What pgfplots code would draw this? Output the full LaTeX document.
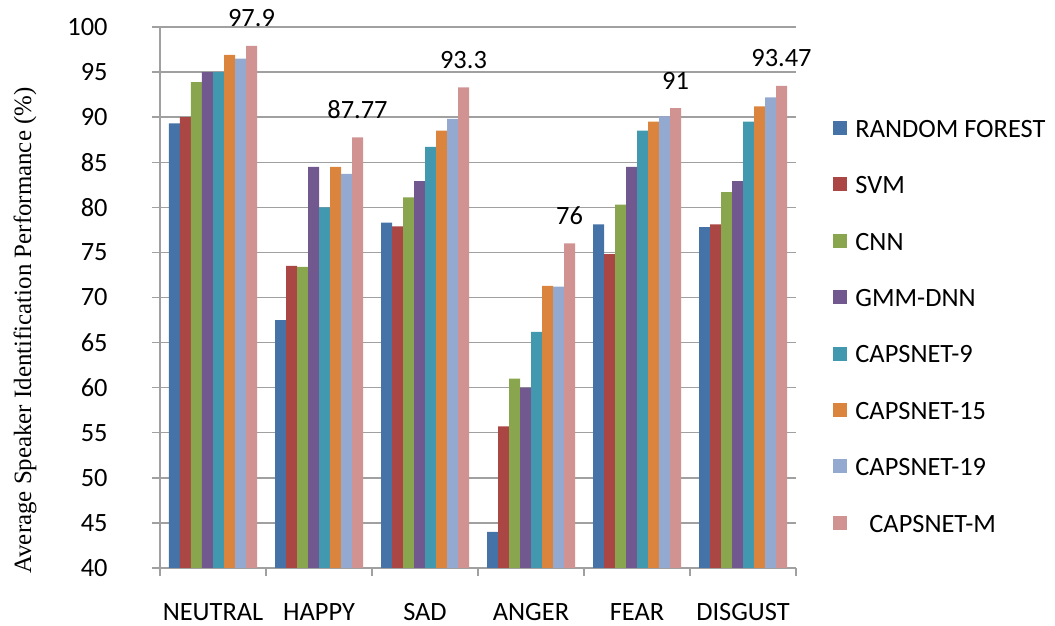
\documentclass[border=0pt]{standalone}
\usepackage{pgfplots}
\usepackage{pgfplotstable}
\pgfplotsset{compat=1.18}
\usepackage{fontspec}
\setmainfont{Carlito}
\newfontfamily\timesf{Liberation Serif}
\definecolor{cRF}{HTML}{4572A7}
\definecolor{cSVM}{HTML}{AA4643}
\definecolor{cCNN}{HTML}{89A54E}
\definecolor{cGMM}{HTML}{71588F}
\definecolor{cC9}{HTML}{4198AF}
\definecolor{cC15}{HTML}{DB843D}
\definecolor{cC19}{HTML}{93A9CF}
\definecolor{cM}{HTML}{D19392}
\definecolor{linegray}{HTML}{A0A0A0}
\pgfplotstableread{
x RF SVM CNN GMM C9 C15 C19 M
0 89.3 90.0 93.9 95.0 95.0 96.9 96.5 97.9
1 67.5 73.5 73.4 84.5 80.0 84.5 83.7 87.77
2 78.3 77.9 81.1 82.9 86.7 88.5 89.8 93.3
3 44.0 55.7 61.0 60.0 66.2 71.3 71.2 76
4 78.1 74.8 80.3 84.5 88.5 89.5 90.1 91
5 77.8 78.1 81.7 82.9 89.5 91.2 92.2 93.47
}\datatable
\begin{document}
\begin{tikzpicture}
\useasboundingbox (-80pt,-29pt) rectangle (447.5pt,284pt);
\begin{axis}[
  at={(0,0)}, anchor=south west,
  scale only axis,
  width=318pt, height=270.5pt,
  ybar=0pt, bar width=5.5pt,
  xmin=-0.5, xmax=5.5,
  ymin=40, ymax=100,
  ytick={40,45,...,100},
  xtick={-0.5,0.5,...,5.5},
  xticklabels={},
  extra x ticks={0,1,2,3,4,5},
  extra x tick labels={NEUTRAL,HAPPY,SAD,ANGER,FEAR,DISGUST},
  extra x tick style={major tick length=0pt},
  axis x line=bottom, axis y line=left,
  axis line style={draw=linegray, line width=0.7pt, -},
  tick style={draw=linegray, line width=0.7pt},
  tick align=outside, major tick length=4pt,
  xmajorgrids=false, ymajorgrids=true,
  grid style={draw=linegray, line width=0.7pt},
  /pgf/number format/assume math mode=true,
  tick label style={font=\fontsize{13.2}{15}\selectfont, text=black},
  yticklabel style={inner sep=0pt, xshift=-22pt},
  xticklabel style={inner sep=0pt, yshift=-17.5pt},
  every axis y label/.style={at={(axis description cs:-0.2121,0.439)}, rotate=90, anchor=center},
  ylabel={\timesf\fontsize{12.45}{14}\selectfont Average Speaker Identification Performance (\%)},
  legend cell align=left,
  legend style={at={(axis description cs:1.0582,0.83)}, anchor=north west,
    draw=none, fill=none, inner sep=0pt, row sep=19.2pt, column sep=4pt,
    font=\fontsize{13.2}{15}\selectfont,
    nodes={inner sep=0pt, text height=9pt, text depth=0pt}},
  legend image code/.code={\fill[#1] (0pt,-3.35pt) rectangle (7pt,3.65pt);},
]
\addplot[fill=cRF, draw=none] table[x=x,y=RF]{\datatable};
\addplot[fill=cSVM, draw=none] table[x=x,y=SVM]{\datatable};
\addplot[fill=cCNN, draw=none] table[x=x,y=CNN]{\datatable};
\addplot[fill=cGMM, draw=none] table[x=x,y=GMM]{\datatable};
\addplot[fill=cC9, draw=none] table[x=x,y=C9]{\datatable};
\addplot[fill=cC15, draw=none] table[x=x,y=C15]{\datatable};
\addplot[fill=cC19, draw=none] table[x=x,y=C19]{\datatable};
\addplot[fill=cM, draw=none, point meta=explicit symbolic, nodes near coords,
  every node near coord/.append style={font=\fontsize{13.2}{15}\selectfont, text=black, anchor=base, inner sep=0pt, yshift=9.5pt}]
  table[x=x,y=M,meta=M]{\datatable};
\legend{RANDOM FOREST,SVM,CNN,GMM-DNN,CAPSNET-9,CAPSNET-15,CAPSNET-19,\hspace{7pt}CAPSNET-M}
\end{axis}
\end{tikzpicture}
\end{document}
